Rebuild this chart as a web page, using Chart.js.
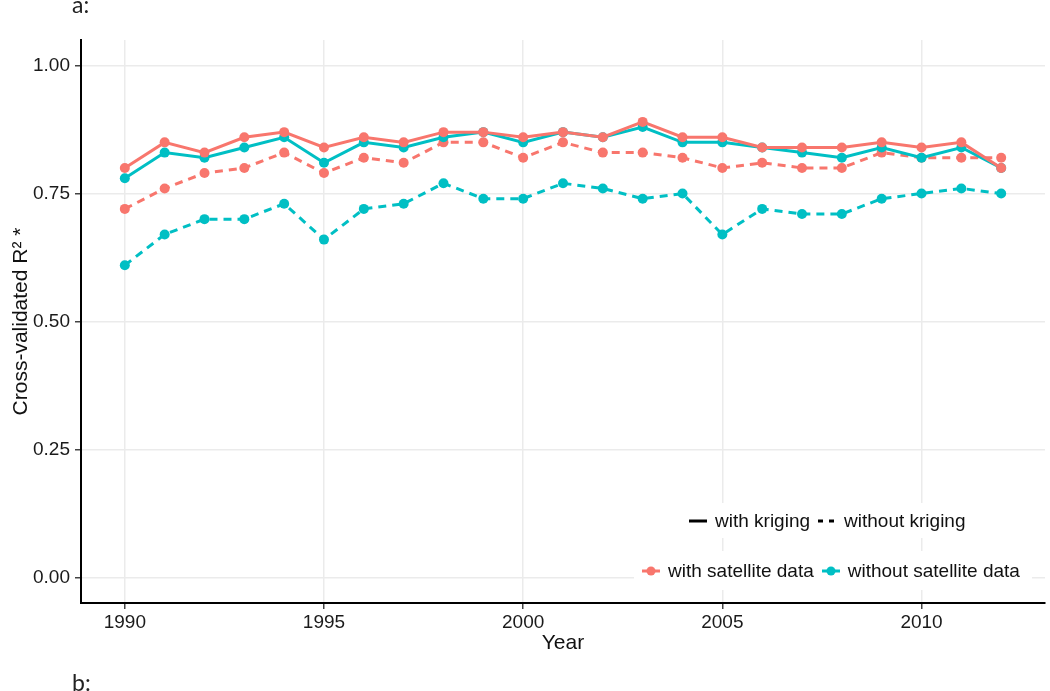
<!DOCTYPE html>
<html lang="en">
<head>
<meta charset="UTF-8">
<title>Cross-validated R2 by year</title>
<script src="https://cdn.jsdelivr.net/npm/chart.js@4"></script>
<style>
  html, body { margin: 0; padding: 0; background: #fff; }
  #wrap { position: relative; width: 1050px; height: 691px; font-family: "Liberation Sans", Arial, sans-serif; }
  #chart { position: absolute; left: 0; top: 0; }
  .tag { position: absolute; font-family: Lato, "Open Sans", sans-serif; font-size: 23px; color: #222; line-height: 1; }
  .legend-box { position: absolute; background: #fff; }
  .legend-row { position: absolute; display: flex; align-items: center; font-size: 19px; color: #111; white-space: nowrap; }
  .legend-row svg { margin-right: 7px; }
  .legend-row span { margin-right: 7px; }
</style>
</head>
<body>
<div id="wrap">
  <canvas id="chart" width="1050" height="691"></canvas>
  <div class="tag" style="left:72px; top:-7px;">a:</div>
  <div class="tag" style="left:72px; top:671px;">b:</div>
  <div class="legend-box" style="left:682px; top:503px; width:294px; height:35px;"></div>
  <div class="legend-box" style="left:634px; top:551px; width:398px; height:39px;"></div>
  <div class="legend-row" id="legend-method" style="left:688px; top:508px; height:26px;"></div>
  <div class="legend-row" id="legend-group" style="left:641px; top:558px; height:26px;"></div>
</div>

<script>
// data
const years = [1990, 1991, 1992, 1993, 1994, 1995, 1996, 1997, 1998, 1999, 2000, 2001,
               2002, 2003, 2004, 2005, 2006, 2007, 2008, 2009, 2010, 2011, 2012];
const satKriging   = [0.80, 0.85, 0.83, 0.86, 0.87, 0.84, 0.86, 0.85, 0.87, 0.87, 0.86, 0.87,
                      0.86, 0.89, 0.86, 0.86, 0.84, 0.84, 0.84, 0.85, 0.84, 0.85, 0.80];
const noSatKriging = [0.78, 0.83, 0.82, 0.84, 0.86, 0.81, 0.85, 0.84, 0.86, 0.87, 0.85, 0.87,
                      0.86, 0.88, 0.85, 0.85, 0.84, 0.83, 0.82, 0.84, 0.82, 0.84, 0.80];
const satNoKriging = [0.72, 0.76, 0.79, 0.80, 0.83, 0.79, 0.82, 0.81, 0.85, 0.85, 0.82, 0.85,
                      0.83, 0.83, 0.82, 0.80, 0.81, 0.80, 0.80, 0.83, 0.82, 0.82, 0.82];
const noSatNoKriging = [0.61, 0.67, 0.70, 0.70, 0.73, 0.66, 0.72, 0.73, 0.77, 0.74, 0.74, 0.77,
                        0.76, 0.74, 0.75, 0.67, 0.72, 0.71, 0.71, 0.74, 0.75, 0.76, 0.75];
const xTicks = [1990, 1995, 2000, 2005, 2010];
const yTicks = [0, 0.25, 0.5, 0.75, 1];
const groupLabels = ['with satellite data', 'without satellite data'];
const methodLabels = ['with kriging', 'without kriging'];

const RED = '#F8766D';
const TEAL = '#00BFC4';
const DASH = [8, 6];

function series(label, vals, color, dashed) {
    return {
        label: label,
        data: years.map((yr, i) => ({ x: yr, y: vals[i] })),
        borderColor: color,
        backgroundColor: color,
        borderWidth: 3,
        borderDash: dashed ? DASH : [],
        pointRadius: 5,
        pointHoverRadius: 5,
        pointBorderWidth: 0,
        tension: 0
    };
}

const tickFont = { family: '"Liberation Sans", Arial, sans-serif', size: 19 };
const titleFont = { family: '"Liberation Sans", Arial, sans-serif', size: 21 };

new Chart(document.getElementById('chart'), {
    type: 'line',
    data: {
        datasets: [
            series(groupLabels[0] + ', ' + methodLabels[0], satKriging, RED, false),
            series(groupLabels[1] + ', ' + methodLabels[0], noSatKriging, TEAL, false),
            series(groupLabels[0] + ', ' + methodLabels[1], satNoKriging, RED, true),
            series(groupLabels[1] + ', ' + methodLabels[1], noSatNoKriging, TEAL, true)
        ]
    },
    options: {
        responsive: false,
        animation: false,
        layout: { padding: { top: 40, right: 5, left: 0, bottom: 0 } },
        plugins: { legend: { display: false }, tooltip: { enabled: false } },
        scales: {
            x: {
                type: 'linear',
                min: 1988.9,
                max: 2013.1,
                afterBuildTicks: s => { s.ticks = xTicks.map(v => ({ value: v })); },
                afterFit: s => { s.height = 88; },
                ticks: { callback: v => String(v), font: tickFont, color: '#1a1a1a', padding: 2, maxRotation: 0, autoSkip: false },
                grid: { color: '#ebebeb', lineWidth: 1.5, tickColor: '#444', tickLength: 6 },
                border: { color: '#000', width: 2 },
                title: { display: true, text: 'Year', font: titleFont, color: '#111', padding: { top: 0, bottom: 35 } }
            },
            y: {
                min: -0.05,
                max: 1.05,
                afterBuildTicks: s => { s.ticks = yTicks.map(v => ({ value: v })); },
                afterFit: s => { s.width = 81; },
                ticks: { callback: v => v.toFixed(2), font: tickFont, color: '#1a1a1a', padding: 5 },
                grid: { color: '#ebebeb', lineWidth: 1.5, tickColor: '#444', tickLength: 6 },
                border: { color: '#000', width: 2 },
                title: { display: true, text: 'Cross-validated R² *', font: titleFont, color: '#111', padding: { top: 9, bottom: 0 } }
            }
        }
    }
});

// legend keys
const SVGNS = 'http://www.w3.org/2000/svg';
function key(color, dashed, withPoint) {
    const svg = document.createElementNS(SVGNS, 'svg');
    svg.setAttribute('width', '20');
    svg.setAttribute('height', '12');
    const line = document.createElementNS(SVGNS, 'line');
    line.setAttribute('x1', '1'); line.setAttribute('x2', '19');
    line.setAttribute('y1', '6'); line.setAttribute('y2', '6');
    line.setAttribute('stroke', color);
    line.setAttribute('stroke-width', '3');
    if (dashed) line.setAttribute('stroke-dasharray', '5 6');
    svg.appendChild(line);
    if (withPoint) {
        const c = document.createElementNS(SVGNS, 'circle');
        c.setAttribute('cx', '10'); c.setAttribute('cy', '6'); c.setAttribute('r', '4.5');
        c.setAttribute('fill', color);
        svg.appendChild(c);
    }
    return svg;
}
function addItem(row, svg, text) {
    row.appendChild(svg);
    const sp = document.createElement('span');
    sp.textContent = text;
    row.appendChild(sp);
}
const methodRow = document.getElementById('legend-method');
addItem(methodRow, key('#000', false, false), methodLabels[0]);
addItem(methodRow, key('#000', true, false), methodLabels[1]);
const groupRow = document.getElementById('legend-group');
addItem(groupRow, key(RED, false, true), groupLabels[0]);
addItem(groupRow, key(TEAL, false, true), groupLabels[1]);
</script>
</body>
</html>
